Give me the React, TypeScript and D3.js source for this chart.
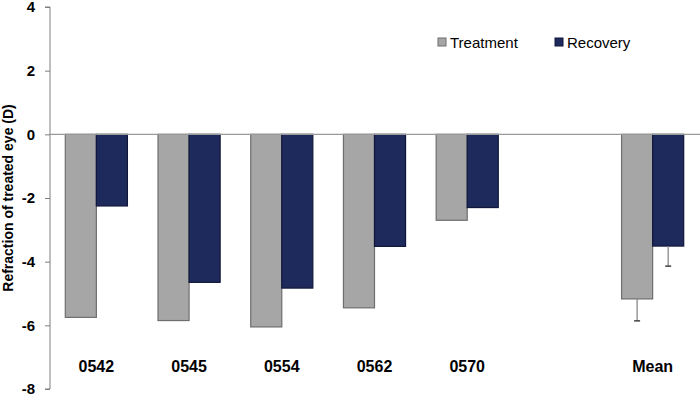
import React, { useEffect, useRef } from 'react';
import * as d3 from 'd3';

// values (diopters)
const categories = ['0542', '0545', '0554', '0562', '0570', '', 'Mean'];
const treatment = [-5.75, -5.85, -6.05, -5.45, -2.7, null, -5.17];
const recovery = [-2.25, -4.65, -4.83, -3.52, -2.3, null, -3.51];
const treatmentErr = [0, 0, 0, 0, 0, 0, 0.69];
const recoveryErr = [0, 0, 0, 0, 0, 0, 0.63];
const seriesNames = ['Treatment', 'Recovery'];
const yTicks = [4, 2, 0, -2, -4, -6, -8];

const colors = { Treatment: '#a6a6a6', Recovery: '#1f2a5c' };
const strokes = { Treatment: '#6e6e6e', Recovery: '#10173a' };

function App() {
  const svgRef = useRef(null);

  useEffect(() => {
    const width = 700;
    const height = 396;
    const left = 50;
    const svg = d3.select(svgRef.current)
      .attr('width', width)
      .attr('height', height);
    svg.selectAll('*').remove();

    const keys = categories.map((c, i) => c || `blank${i}`);

    const x = d3.scaleBand()
      .domain(keys)
      .range([left, 699])
      .paddingInner(0.33)
      .paddingOuter(0.165);

    const xSub = d3.scaleBand()
      .domain(seriesNames)
      .range([0, x.bandwidth()]);

    const y = d3.scaleLinear()
      .domain([-8, 4])
      .range([389, 7]);

    // y axis
    const yAxis = svg.append('g')
      .attr('transform', `translate(${left},0)`)
      .call(d3.axisLeft(y).tickValues(yTicks).tickSize(5).tickPadding(10).tickFormat(d3.format('d')));
    yAxis.select('.domain').attr('stroke', '#7f7f7f').attr('d', `M-5,${y(4)}H0V${y(-8)}H-5`);
    yAxis.selectAll('.tick line').attr('stroke', '#7f7f7f');
    yAxis.selectAll('.tick text')
      .attr('fill', '#000')
      .attr('font-family', 'Liberation Sans, Arial, sans-serif')
      .attr('font-weight', 'bold')
      .attr('font-size', 15)
      .text(d => (d < 0 ? '-' + Math.abs(d) : String(d)));

    // axis title
    svg.append('text')
      .attr('transform', `translate(13,${y(-2)}) rotate(-90)`)
      .attr('text-anchor', 'middle')
      .attr('font-family', 'Liberation Sans, Arial, sans-serif')
      .attr('font-weight', 'bold')
      .attr('font-size', 14)
      .text('Refraction of treated eye (D)');

    const rows = categories.map((c, i) => ({
      key: keys[i],
      label: c,
      values: [
        { name: 'Treatment', v: treatment[i], err: treatmentErr[i] },
        { name: 'Recovery', v: recovery[i], err: recoveryErr[i] },
      ],
    }));

    const groups = svg.selectAll('.group')
      .data(rows)
      .enter().append('g')
      .attr('class', 'group')
      .attr('transform', d => `translate(${x(d.key)},0)`);

    const bars = groups.selectAll('.bar')
      .data(d => d.values.filter(v => v.v !== null))
      .enter();

    bars.append('rect')
      .attr('class', 'bar')
      .attr('x', d => xSub(d.name))
      .attr('y', y(0))
      .attr('width', xSub.bandwidth())
      .attr('height', d => y(d.v) - y(0))
      .attr('fill', d => colors[d.name])
      .attr('stroke', d => strokes[d.name])
      .attr('stroke-width', 1.2);

    // error bars (downward only)
    const errs = groups.selectAll('.err')
      .data(d => d.values.filter(v => v.v !== null && v.err > 0))
      .enter().append('g')
      .attr('class', 'err');
    errs.append('line')
      .attr('x1', d => xSub(d.name) + xSub.bandwidth() / 2)
      .attr('x2', d => xSub(d.name) + xSub.bandwidth() / 2)
      .attr('y1', d => y(d.v))
      .attr('y2', d => y(d.v - d.err))
      .attr('stroke', '#7f7f7f')
      .attr('stroke-width', 1.2);
    errs.append('line')
      .attr('x1', d => xSub(d.name) + xSub.bandwidth() / 2 - 3)
      .attr('x2', d => xSub(d.name) + xSub.bandwidth() / 2 + 3)
      .attr('y1', d => y(d.v - d.err))
      .attr('y2', d => y(d.v - d.err))
      .attr('stroke', '#404040')
      .attr('stroke-width', 1.5);

    // zero line
    svg.append('line')
      .attr('x1', left)
      .attr('x2', width)
      .attr('y1', y(0))
      .attr('y2', y(0))
      .attr('stroke', '#9a9a9a')
      .attr('stroke-width', 1.2);

    // category labels
    groups.append('text')
      .attr('x', x.bandwidth() / 2)
      .attr('y', 372)
      .attr('text-anchor', 'middle')
      .attr('font-family', 'Liberation Sans, Arial, sans-serif')
      .attr('font-weight', 'bold')
      .attr('font-size', 16)
      .text(d => d.label);

    // legend
    const legendX = [438, 555];
    const legend = svg.selectAll('.legend')
      .data(seriesNames)
      .enter().append('g')
      .attr('class', 'legend')
      .attr('transform', (d, i) => `translate(${legendX[i]},38)`);
    legend.append('rect')
      .attr('width', 8)
      .attr('height', 8)
      .attr('fill', d => colors[d])
      .attr('stroke', d => strokes[d]);
    legend.append('text')
      .attr('x', 12)
      .attr('y', 9.5)
      .attr('font-family', 'Liberation Sans, Arial, sans-serif')
      .attr('font-size', 15)
      .text(d => d);
  }, []);

  return (
    <svg ref={svgRef} style={{ position: 'absolute', left: 0, top: 0, display: 'block' }}></svg>
  );
}

export default App;
